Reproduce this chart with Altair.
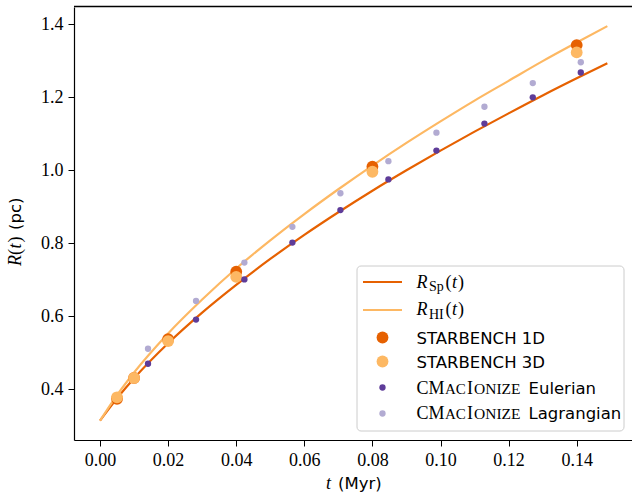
import altair as alt
import pandas as pd

# Analytic expansion laws sampled along t (Myr) -> R (pc)
t_line = [0.0, 0.005, 0.01, 0.02, 0.03, 0.04, 0.05, 0.06, 0.07, 0.08,
          0.09, 0.10, 0.11, 0.12, 0.13, 0.14, 0.149]
r_spitzer = [0.314, 0.375, 0.430, 0.526, 0.610, 0.686, 0.757, 0.823, 0.885,
             0.944, 1.000, 1.054, 1.106, 1.156, 1.205, 1.252, 1.293]
r_hosokawa = [0.314, 0.384, 0.446, 0.553, 0.646, 0.731, 0.808, 0.880, 0.948,
              1.013, 1.075, 1.134, 1.191, 1.245, 1.299, 1.350, 1.395]

# STARBENCH reference results
t_starbench = [0.005, 0.01, 0.02, 0.04, 0.08, 0.14]
r_sb_1d = [0.374, 0.431, 0.537, 0.722, 1.010, 1.343]
r_sb_3d = [0.378, 0.431, 0.532, 0.708, 0.996, 1.323]

# CMacIonize snapshots
t_cmi = [0.0141, 0.0282, 0.0424, 0.0565, 0.0706, 0.0847, 0.0988, 0.1129,
         0.1271, 0.1412]
r_eulerian = [0.470, 0.591, 0.701, 0.802, 0.891, 0.975, 1.054, 1.128, 1.200, 1.268]
r_lagrangian = [0.511, 0.642, 0.747, 0.845, 0.937, 1.025, 1.103, 1.174, 1.239, 1.296]

x_ticks = [0.0, 0.02, 0.04, 0.06, 0.08, 0.10, 0.12, 0.14]
y_ticks = [0.4, 0.6, 0.8, 1.0, 1.2, 1.4]

C_SP = "#e66101"
C_HI = "#fdb863"
C_EUL = "#5e3c99"
C_LAG = "#b2abd2"

W, H = 558, 433
SERIF = "Liberation Serif"
SANS = "DejaVu Sans"

xscale = alt.Scale(domain=[-0.00764, 0.15624], nice=False, zero=False)
yscale = alt.Scale(domain=[0.261, 1.4474], nice=False, zero=False)

x_axis = alt.Axis(values=x_ticks, format=".2f", title=None, grid=False)
y_axis = alt.Axis(values=y_ticks, format=".1f", title=None, grid=False)


def xy():
    return dict(
        x=alt.X("t:Q", scale=xscale, axis=x_axis),
        y=alt.Y("R:Q", scale=yscale, axis=y_axis),
    )


def frame(ts, rs):
    return pd.DataFrame({"t": ts, "R": rs})


line_sp = alt.Chart(frame(t_line, r_spitzer)).mark_line(
    color=C_SP, strokeWidth=2.2, interpolate="monotone").encode(**xy())
line_hi = alt.Chart(frame(t_line, r_hosokawa)).mark_line(
    color=C_HI, strokeWidth=2.2, interpolate="monotone").encode(**xy())

pts_1d = alt.Chart(frame(t_starbench, r_sb_1d)).mark_circle(
    color=C_SP, size=140, opacity=1).encode(**xy())
pts_3d = alt.Chart(frame(t_starbench, r_sb_3d)).mark_circle(
    color=C_HI, size=140, opacity=1).encode(**xy())
pts_eul = alt.Chart(frame(t_cmi, r_eulerian)).mark_circle(
    color=C_EUL, size=40, opacity=1).encode(**xy())
pts_lag = alt.Chart(frame(t_cmi, r_lagrangian)).mark_circle(
    color=C_LAG, size=40, opacity=1).encode(**xy())

one = pd.DataFrame({"k": [0]})

top_border = alt.Chart(one).mark_rule(color="black", strokeWidth=1.3).encode(
    x=alt.value(0), x2=alt.value(W + 10), y=alt.value(-0.5))


def txt(s, x, y, font=SANS, size=16.5, style="normal", angle=0):
    return alt.Chart(one).mark_text(
        text=s, font=font, fontSize=size, fontStyle=style, align="left",
        baseline="alphabetic", angle=angle, color="black",
    ).encode(x=alt.value(x), y=alt.value(y))


# legend box and entries
legend_box = alt.Chart(one).mark_rect(
    fill="white", fillOpacity=0.8, stroke="#cccccc", strokeWidth=1,
    cornerRadius=4).encode(
    x=alt.value(283), x2=alt.value(550), y=alt.value(259), y2=alt.value(424))

leg_line_sp = alt.Chart(one).mark_rule(color=C_SP, strokeWidth=2.2).encode(
    x=alt.value(289), x2=alt.value(328), y=alt.value(275))
leg_line_hi = alt.Chart(one).mark_rule(color=C_HI, strokeWidth=2.2).encode(
    x=alt.value(289), x2=alt.value(328), y=alt.value(303))


def leg_dot(color, y, size):
    return alt.Chart(one).mark_circle(color=color, size=size, opacity=1).encode(
        x=alt.value(308.5), y=alt.value(y))


TX = 342.5
legend_items = [
    legend_box, leg_line_sp, leg_line_hi,
    leg_dot(C_SP, 330.5, 140), leg_dot(C_HI, 354.5, 140),
    leg_dot(C_EUL, 380.5, 40), leg_dot(C_LAG, 406.5, 40),
    # R_Sp(t)
    txt("R", TX, 280.5, SERIF, 18, "italic"),
    txt("Sp", TX + 12.5, 284, SERIF, 14),
    txt("(", TX + 29, 280.5, SERIF, 18),
    txt("t", TX + 35.5, 280.5, SERIF, 18, "italic"),
    txt(")", TX + 41.5, 280.5, SERIF, 18),
    # R_HI(t)
    txt("R", TX, 308, SERIF, 18, "italic"),
    txt("HI", TX + 12.5, 311.5, SERIF, 14),
    txt("(", TX + 29, 308, SERIF, 18),
    txt("t", TX + 35.5, 308, SERIF, 18, "italic"),
    txt(")", TX + 41.5, 308, SERIF, 18),
    txt("STARBENCH 1D", TX, 336.5),
    txt("STARBENCH 3D", TX, 360.5),
]


def cmacionize(y):
    return [
        txt("CM", TX, y, SERIF, 18),
        txt("AC", TX + 28.5, y, SERIF, 15),
        txt("I", TX + 50.5, y, SERIF, 18),
        txt("ONIZE", TX + 57.5, y, SERIF, 15.5),
    ]


legend_items += cmacionize(386.5) + [txt("Eulerian", TX + 112, 386.5)]
legend_items += cmacionize(411.5) + [txt("Lagrangian", TX + 112, 411.5)]

# axis titles
titles = [
    txt("t", 252, 482, SERIF, 18, "italic"),
    txt("(Myr)", 264, 482),
    txt("R", -53, 259, SERIF, 18, "italic", angle=270),
    txt("(", -53, 248, SERIF, 18, angle=270),
    txt("t", -53, 241.5, SERIF, 18, "italic", angle=270),
    txt(")", -53, 235.5, SERIF, 18, angle=270),
    txt("(pc)", -53, 223, angle=270),
]

chart = alt.layer(
    line_sp, line_hi, pts_1d, pts_3d, pts_eul, pts_lag, top_border,
    *legend_items, *titles,
).properties(
    width=W, height=H,
    padding={"left": 74, "top": 7, "right": 0, "bottom": 57},
    autosize=alt.AutoSizeParams(type="none"),
).configure_view(stroke=None).configure_axis(
    labelFont=SERIF, labelFontSize=18, labelColor="black",
    tickColor="black", tickSize=6, tickWidth=1,
    domainColor="black", domainWidth=1.2, labelPadding=5,
)

chart.save("out.html", embed_options={"renderer": "svg", "actions": False})
